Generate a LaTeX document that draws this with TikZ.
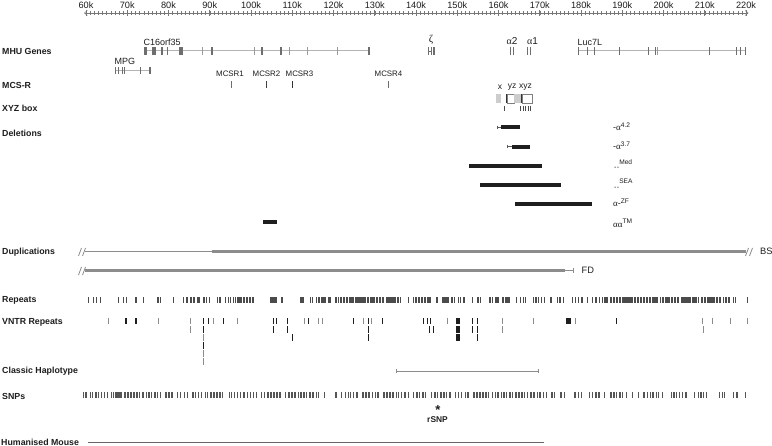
\documentclass[tikz,border=0pt]{standalone}
\usepackage{fontspec}
\setmainfont{Liberation Sans}
\newfontfamily\grk{Liberation Serif}
\usetikzlibrary{arrows.meta}
\definecolor{txt}{RGB}{30,30,30}
\definecolor{axc}{RGB}{120,120,120}
\definecolor{gline}{RGB}{180,180,180}
\definecolor{exd}{RGB}{110,110,110}
\definecolor{exl}{RGB}{155,155,155}
\definecolor{dupc}{RGB}{140,140,140}
\definecolor{repc}{RGB}{75,75,75}
\definecolor{snpc}{RGB}{85,85,85}
\definecolor{boxg}{RGB}{205,205,205}
\definecolor{vthinc}{RGB}{140,140,140}
\definecolor{vthickc}{RGB}{30,30,30}
\newcommand\exonmark[5]{\fill[#5] ({#1-#2/2},#3) rectangle ({#1+#2/2},#4);}
\newcommand\barcodetrack[7]{%
  \pgfmathtruncatemacro\nbars{(#2-#1)/#3}%
  \foreach \k in {0,...,\nbars}{%
    \pgfmathsetmacro\rr{rnd}%
    \pgfmathsetmacro\ww{0.6+#7*rnd}%
    \ifdim\rr pt<#4pt
      \fill ({#1+\k*#3},#5) rectangle ({#1+\k*#3+\ww},#6);
    \fi
  }}
\newcommand\supx[1]{\raisebox{3.6pt}{\fontsize{6.6}{7}\selectfont #1}}
\newcommand\lowdash{\raisebox{-1.6pt}{\fontsize{7}{7}\selectfont -\kern0.4pt-}}
\begin{document}
\begin{tikzpicture}[x=1pt,y=-1pt,
  track/.style={anchor=west,inner sep=0pt,text=txt,font=\fontsize{8.8}{10}\selectfont\bfseries},
  axlbl/.style={inner sep=0pt,text=txt,font=\fontsize{9.2}{10}\selectfont},
  glbl/.style={inner sep=0pt,text=txt,font=\fontsize{9}{10}\selectfont},
  mlbl/.style={inner sep=0pt,text=txt,font=\fontsize{7.9}{9}\selectfont},
  dlbl/.style={anchor=base west,inner sep=0pt,text=txt,font=\fontsize{9}{10}\selectfont},
  gbody/.style={draw=gline,line width=1pt},
  delbar/.style={draw=black!88,line width=4pt},
  whisk/.style={draw=black!65,line width=0.6pt},
  dupthin/.style={draw=dupc,line width=0.8pt},
  dupthick/.style={draw=dupc,line width=3pt},
  slash/.style={draw=dupc,line width=0.8pt},
  hapline/.style={draw=black!45,line width=0.6pt},
]
\useasboundingbox (0,0) rectangle (772,446);
\fill[white] (0,0) rectangle (772,446);

% ---------- axis ----------
\draw[axc,line width=0.5pt,{Straight Barb[length=3pt,width=5pt]}-{Straight Barb[length=3pt,width=5pt]}] (84,13) -- (748.5,13);
\foreach \i in {0,...,160} {\draw[axc,line width=0.4pt] ({86+\i*4.125},11.3) -- ({86+\i*4.125},14.7);}
\foreach \i in {0,...,16} {
  \draw[axc,line width=0.6pt] ({86+\i*41.25},9.8) -- ({86+\i*41.25},16.2);
  \node[axlbl] (ax\i) at ({86+\i*41.25},5) {\the\numexpr60+\i*10\relax k};
}

% ---------- track labels ----------
\node[track] (tMHU) at (2,51) {MHU Genes};
\node[track] (tMCS) at (2,85) {MCS-R};
\node[track] (tXYZ) at (2,108) {XYZ box};
\node[track] (tDel) at (2,133) {Deletions};
\node[track] (tDup) at (2,252) {Duplications};
\node[track] (tRep) at (2,300) {Repeats};
\node[track] (tVNTR) at (2,322) {VNTR Repeats};
\node[track] (tHap) at (2,371) {Classic Haplotype};
\node[track] (tSNP) at (2,396) {SNPs};
\node[track] (tHum) at (1,442) {Humanised Mouse};

% ---------- genes ----------
\node[glbl,anchor=west] (gC16) at (143.5,42) {C16orf35};
\draw[gbody] (144,51) -- (369,51);
\exonmark{145.3}{2.6}{47}{55}{exd}
\exonmark{153.5}{4}{47}{55}{exd}
\foreach \xx in {162,167.5,180,182,212,262,281} {\exonmark{\xx}{1.1}{47}{55}{exd}}
\foreach \xx in {202,254,289,307,337} {\exonmark{\xx}{1}{47}{55}{exl}}
\exonmark{368.5}{2}{47}{55}{exd}

\node[glbl,anchor=west] (gMPG) at (114.5,61) {MPG};
\draw[gbody] (115,70.5) -- (150,70.5);
\foreach \xx/\ww in {115/1,118.8/1,122.5/1,124.6/1.4,140/1,150/1.5} {\exonmark{\xx}{\ww}{67}{74}{exd}}

\node[glbl,font=\fontsize{10.5}{11}\selectfont\grk] (gZeta) at (431,40) {ζ};
\draw[exd,line width=0.6pt] (428,51) -- (432,51);
\exonmark{428}{1}{47}{55}{exd}
\exonmark{431.5}{1}{47}{55}{exd}
\exonmark{433.8}{1.8}{47}{55}{exd}

\node[glbl,font=\fontsize{10}{11}\selectfont] (gA2) at (512,41) {{\grk α}2};
\exonmark{510.7}{1.4}{47}{55}{exd}
\exonmark{513.3}{1.4}{47}{55}{exd}
\node[glbl,font=\fontsize{10}{11}\selectfont] (gA1) at (532.5,41) {{\grk α}1};
\exonmark{527.7}{1.4}{47}{55}{exd}
\exonmark{530.3}{1.4}{47}{55}{exd}

\node[glbl,anchor=west] (gLuc) at (577.5,42) {Luc7L};
\draw[gbody] (578,51) -- (746,51);
\foreach \xx in {578,587,594,619,648,655,709,736,740,745} {\exonmark{\xx}{1}{47}{55}{exd}}
\exonmark{657.5}{1.6}{47}{55}{exl}

% ---------- MCS-R ----------
\node[mlbl] (m1) at (230,74) {MCSR1};
\node[mlbl] (m2) at (266.5,74) {MCSR2};
\node[mlbl] (m3) at (299.5,74) {MCSR3};
\node[mlbl] (m4) at (388.5,74) {MCSR4};
\foreach \xx/\ww/\cc in {231/0.9/exd,266/0.9/black!75,292.3/1.6/black!80,388/0.9/exd} {\exonmark{\xx}{\ww}{81}{88}{\cc}}

% ---------- XYZ box ----------
\node[mlbl,font=\fontsize{8.5}{9}\selectfont] (xz1) at (500,87) {x};
\node[mlbl,font=\fontsize{8.5}{9}\selectfont] (xz2) at (512,87) {yz};
\node[mlbl,font=\fontsize{8.5}{9}\selectfont] (xz3) at (525.5,87) {xyz};
\fill[boxg] (496,94) rectangle (500.7,103);
\draw[black!50,line width=0.4pt] (507,94) rectangle (514,103);
\fill[boxg] (514,94) rectangle (520.7,103);
\draw[black!50,line width=0.4pt] (522.3,94) rectangle (531.7,103);
\fill[black!80] (505.8,94) rectangle (506.8,103);
\fill[black!80] (521.2,94) rectangle (522.2,103);
\foreach \xx in {504,520,522.6,525.2,527.8,530.4} {\fill[black!70] (\xx,106) rectangle ({\xx+0.7},111);}

% ---------- deletions ----------
\draw[whisk] (497,127.3) -- (501,127.3); \draw[whisk] (497,125.6) -- (497,129);
\draw[delbar] (501,127.3) -- (519.5,127.3);
\draw[whisk] (507.7,146.7) -- (512.3,146.7); \draw[whisk] (507.7,145) -- (507.7,148.4);
\draw[delbar] (512.3,146.7) -- (530,146.7);
\draw[delbar] (469,166) -- (542,166);
\draw[delbar] (480,185) -- (561,185);
\draw[delbar] (515,204) -- (592,204);
\draw[delbar] (263,222) -- (277,222);
\node[dlbl] (d42) at (613,131) {-{\grk α}\supx{4.2}};
\node[dlbl] (d37) at (613,150) {-{\grk α}\supx{3.7}};
\node[dlbl] (dMed) at (614,168) {\lowdash\supx{Med}};
\node[dlbl] (dSEA) at (614,187.5) {\lowdash\supx{SEA}};
\node[dlbl] (dZF) at (613,207) {{\grk α}-\supx{ZF}};
\node[dlbl] (dTM) at (613,227.5) {{\grk αα}\supx{TM}};

% ---------- duplications ----------
\draw[slash] (78.5,256) -- (81.5,248);
\draw[slash] (82.5,256) -- (85.5,248);
\draw[dupthin] (85,251.7) -- (212,251.7);
\draw[dupthick] (212,251.7) -- (746,251.7);
\draw[slash] (745.5,256) -- (748.5,248);
\draw[slash] (749.5,256) -- (752.5,248);
\node[glbl,anchor=west,font=\fontsize{9.3}{10}\selectfont] (lBS) at (760,251.5) {BS};
\draw[slash] (78.5,275) -- (81.5,267);
\draw[slash] (82.5,275) -- (85.5,267);
\draw[dupthick] (85,270.7) -- (565,270.7);
\draw[dupthin] (565,270.7) -- (573,270.7);
\draw[dupthin] (573,268.5) -- (573,273);
\node[glbl,anchor=west,font=\fontsize{9.3}{10}\selectfont] (lFD) at (581.5,270.5) {FD};

% ---------- repeats ----------
\begin{scope}[fill=repc]
\pgfmathsetseed{11}
\foreach \xx/\ww in {88/1,93/1,96/1.2,100/1,118/1,123/1,126/1.2,135/1.5,143/1,157/1.5,159.5/1,173/1.2,183/1,186/1.5,330/1,747/1}
  {\fill (\xx,297) rectangle ({\xx+\ww},303);}
\foreach \a/\b/\p in {188/213/0.55,217/221/0.7,225/233/0.55,235/253/0.85,270/283/0.65,300/304/0.75,310/328/0.8,335/400/0.97,400/410/0.55,413/437/0.8,440/460/0.8,463/480/0.35,487/500/0.5,502/527/0.45,533/563/0.6,572/602/0.5,602/657/0.97,660/730/0.92,733/738/0.5}
  {\barcodetrack{\a}{\b}{1.5}{\p}{297}{303}{1.4}}
\end{scope}

% ---------- VNTR repeats ----------
\foreach \xx/\ww/\r/\cc in {
 108/1/1/vthinc,125/1.6/1/vthickc,134.5/2.2/1/vthickc,158/1/1/vthinc,190/1/1/vthinc,202.5/1.6/1/vthickc,
 208/1/1/vthickc,213/1/1/vthinc,222.5/1.6/1/vthickc,237/1/1/vthinc,272.5/1.4/1/vthickc,275.5/1.4/1/vthickc,
 286.5/1.8/1/vthickc,304/1/1/vthinc,307.5/1.6/1/vthickc,318/1/1/vthinc,322/1/1/vthinc,353/1.4/1/vthickc,
 363/1/1/vthinc,367.5/1.6/1/vthickc,371/1/1/vthinc,381.5/1.8/1/vthickc,423/1/1/vthickc,426.5/1/1/vthickc,
 430/1/1/vthickc,447/1/1/vthinc,456/4/1/vthickc,471.5/1.8/1/vthickc,476.5/1.8/1/vthickc,502/1/1/vthinc,
 533/1/1/vthinc,566/5/1/vthickc,575/1/1/vthinc,615.5/1.6/1/vthickc,702/1/1/vthinc,712/1/1/vthinc,
 730/1/1/vthinc,747/1/1/vthinc,
 190/1/2/vthinc,203/1/2/vthickc,272.5/1.6/2/vthickc,286.5/1.8/2/vthickc,367.5/1.8/2/vthickc,
 429/1/2/vthickc,433/1/2/vthickc,456/4/2/vthickc,471.5/1.8/2/vthickc,476.5/1.8/2/vthickc,502/1/2/vthinc,703/1/2/vthinc,
 203/1/3/vthinc,291.5/1.6/3/vthickc,367.5/1.8/3/vthickc,456/4/3/vthickc,476.5/1.8/3/vthickc,
 202.5/1.6/4/vthickc,203/1/5/vthinc,203/1/6/vthinc}
 {\fill[\cc] (\xx,{318+(\r-1)*8.1}) rectangle ({\xx+\ww},{324.5+(\r-1)*8.1});}

% ---------- classic haplotype ----------
\draw[hapline] (396,371) -- (538,371);
\draw[hapline] (396,369.3) -- (396,372.7);
\draw[hapline] (538,369.3) -- (538,372.7);

% ---------- SNPs ----------
\begin{scope}[fill=snpc]
\pgfmathsetseed{5}
\foreach \a/\b/\p in {83/86/0.7,90/112/0.62,113/160/0.8,160/327/0.62,330/345/0.2,345/565/0.7,572/745/0.5}
  {\barcodetrack{\a}{\b}{1.5}{\p}{392}{398}{0.8}}
\fill (115,392) rectangle (121,398);
\end{scope}
\node[inner sep=0pt,text=txt,font=\fontsize{13}{13}\selectfont\bfseries] (ast) at (438,410) {*};
\node[inner sep=0pt,text=txt,font=\fontsize{8.4}{9}\selectfont\bfseries] (rsnp) at (437.5,420) {rSNP};

% ---------- humanised mouse ----------
\coordinate (hm0) at (88,442);
\coordinate (hm1) at (544,442);
\draw[black!60,line width=0.8pt] (hm0) -- (hm1);
\end{tikzpicture}
\end{document}
